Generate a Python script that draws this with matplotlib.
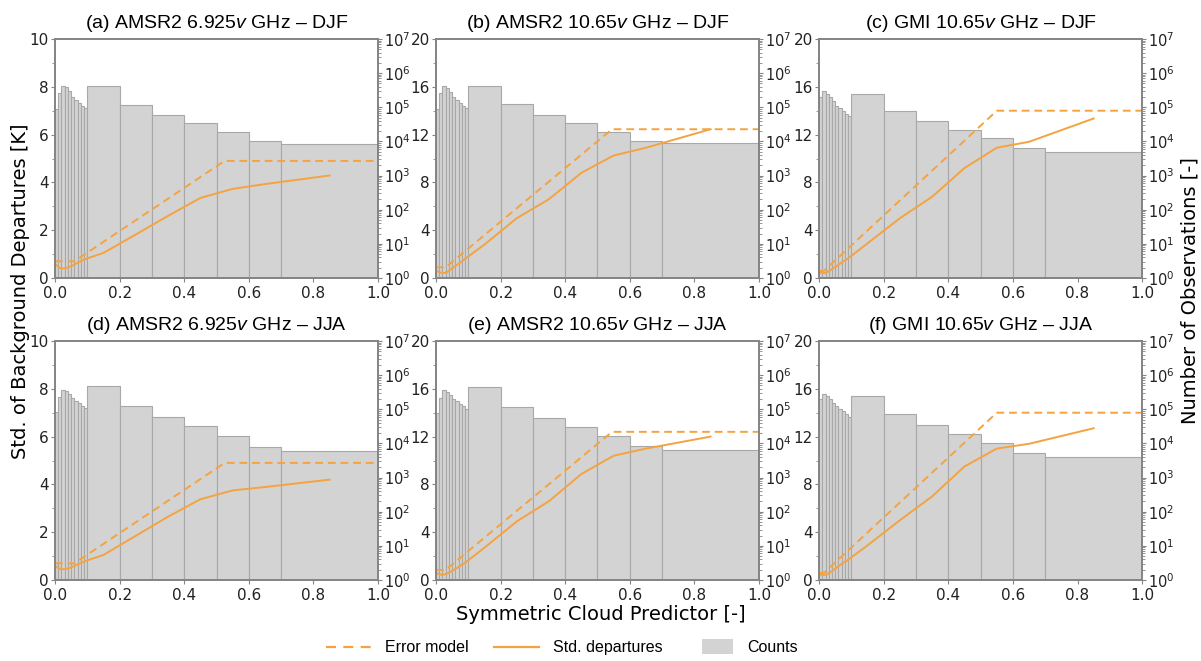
import numpy as np
import matplotlib
matplotlib.use('Agg')
import matplotlib.pyplot as plt
from matplotlib.patches import Patch, Rectangle
from matplotlib.lines import Line2D
from matplotlib.legend_handler import HandlerPatch
from matplotlib.ticker import MultipleLocator

plt.rcParams['font.family'] = 'DejaVu Sans'
plt.rcParams['mathtext.fontset'] = 'custom'
plt.rcParams['mathtext.it'] = 'Liberation Sans:italic'
plt.rcParams['mathtext.rm'] = 'DejaVu Sans'

# histogram bins of the symmetric cloud predictor
bin_edges = [0.0, 0.01, 0.02, 0.03, 0.04, 0.05, 0.06, 0.07, 0.08, 0.09,
             0.1, 0.2, 0.3, 0.4, 0.5, 0.6, 0.7, 1.0]
# x positions of std departures (bin centres)
x_std = [0.005, 0.015, 0.025, 0.035, 0.045, 0.055, 0.065, 0.075, 0.085, 0.095,
         0.15, 0.25, 0.35, 0.45, 0.55, 0.65, 0.85]

titles = ['(a) AMSR2 6.925$\\mathit{v}$ GHz \u2013 DJF',
          '(b) AMSR2 10.65$\\mathit{v}$ GHz \u2013 DJF',
          '(c) GMI 10.65$\\mathit{v}$ GHz \u2013 DJF',
          '(d) AMSR2 6.925$\\mathit{v}$ GHz \u2013 JJA',
          '(e) AMSR2 10.65$\\mathit{v}$ GHz \u2013 JJA',
          '(f) GMI 10.65$\\mathit{v}$ GHz \u2013 JJA']
ymax = [10, 20, 20, 10, 20, 20]

counts_a = [8.7e4, 2.6e5, 4.3e5, 3.9e5, 2.95e5, 2.0e5, 1.66e5, 1.32e5, 1.1e5, 9.3e4,
            4.1e5, 1.2e5, 5.9e4, 3.5e4, 1.9e4, 1.05e4, 8.3e3]
counts_b = [8.7e4, 2.6e5, 4.2e5, 3.7e5, 2.8e5, 2.0e5, 1.6e5, 1.3e5, 1.1e5, 9.3e4,
            4.2e5, 1.23e5, 6.0e4, 3.4e4, 1.95e4, 1.05e4, 8.9e3]
counts_c = [2.0e5, 3.1e5, 2.45e5, 1.95e5, 1.48e5, 1.1e5, 9.3e4, 7.8e4, 6.5e4, 5.4e4,
            2.45e5, 7.8e4, 4.0e4, 2.2e4, 1.26e4, 6.3e3, 5.0e3]
counts_d = [8.1e4, 2.3e5, 3.8e5, 3.55e5, 2.8e5, 2.15e5, 1.74e5, 1.48e5, 1.29e5, 1.1e5,
            4.8e5, 1.23e5, 5.9e4, 3.2e4, 1.6e4, 8.1e3, 6.2e3]
counts_e = [7.9e4, 2.15e5, 3.6e5, 3.3e5, 2.7e5, 2.0e5, 1.7e5, 1.4e5, 1.23e5, 1.05e5,
            4.5e5, 1.2e5, 5.6e4, 3.1e4, 1.66e4, 8.7e3, 6.3e3]
counts_f = [1.95e5, 2.8e5, 2.4e5, 2.0e5, 1.55e5, 1.23e5, 1.02e5, 8.7e4, 7.1e4, 6.0e4,
            2.5e5, 7.1e4, 3.55e4, 1.95e4, 1.02e4, 5.2e3, 3.9e3]

std_a = [0.53, 0.42, 0.40, 0.42, 0.47, 0.53, 0.60, 0.67, 0.74, 0.80,
         1.05, 1.82, 2.60, 3.35, 3.73, 3.93, 4.29]
std_b = [0.55, 0.45, 0.42, 0.50, 0.70, 0.90, 1.10, 1.30, 1.50, 1.70,
         2.80, 5.00, 6.60, 8.80, 10.25, 10.90, 12.45]
std_c = [0.45, 0.40, 0.50, 0.65, 0.85, 1.00, 1.20, 1.40, 1.55, 1.75,
         2.90, 5.00, 6.80, 9.20, 10.90, 11.40, 13.35]
std_d = [0.55, 0.47, 0.45, 0.47, 0.50, 0.56, 0.62, 0.68, 0.74, 0.80,
         1.05, 1.85, 2.65, 3.38, 3.75, 3.89, 4.20]
std_e = [0.55, 0.45, 0.45, 0.55, 0.70, 0.85, 1.00, 1.20, 1.35, 1.55,
         2.70, 4.90, 6.60, 8.87, 10.40, 11.00, 12.00]
std_f = [0.45, 0.42, 0.50, 0.65, 0.85, 1.05, 1.25, 1.45, 1.60, 1.80,
         2.90, 5.00, 7.00, 9.50, 11.00, 11.40, 12.70]

# error model: clear value up to C_clr, linear to C_cld, constant after
err_x_a = [0.0, 0.06, 0.525, 1.0];  err_y_a = [0.7, 0.7, 4.9, 4.9]
err_x_b = [0.0, 0.03, 0.545, 1.0];  err_y_b = [0.9, 0.9, 12.45, 12.45]
err_x_c = [0.0, 0.015, 0.55, 1.0];  err_y_c = [0.6, 0.6, 14.0, 14.0]
err_x_d = [0.0, 0.06, 0.525, 1.0];  err_y_d = [0.7, 0.7, 4.9, 4.9]
err_x_e = [0.0, 0.03, 0.545, 1.0];  err_y_e = [0.85, 0.85, 12.4, 12.4]
err_x_f = [0.0, 0.015, 0.55, 1.0];  err_y_f = [0.6, 0.6, 14.0, 14.0]

counts = [counts_a, counts_b, counts_c, counts_d, counts_e, counts_f]
stds = [std_a, std_b, std_c, std_d, std_e, std_f]
err_x = [err_x_a, err_x_b, err_x_c, err_x_d, err_x_e, err_x_f]
err_y = [err_y_a, err_y_b, err_y_c, err_y_d, err_y_e, err_y_f]

orange = '#f4a340'
bar_face = '#d3d3d3'
bar_edge = '#a8a8a8'
spine_col = '#858585'

fig = plt.figure(figsize=(12.01, 6.61), dpi=100)

lefts = [0.0458, 0.363, 0.682]
bottoms = [0.5794, 0.1225]
w, h = 0.269, 0.3616

edges = np.array(bin_edges)
for i in range(6):
    r, c = divmod(i, 3)
    ax = fig.add_axes([lefts[c], bottoms[r], w, h])
    axr = ax.twinx()

    axr.bar(edges[:-1], counts[i], width=np.diff(edges), align='edge',
            color=bar_face, edgecolor=bar_edge, linewidth=0.8)
    axr.set_yscale('log')
    axr.set_ylim(1, 1e7)

    ax.plot(err_x[i], err_y[i], color=orange, lw=1.4, ls=(0, (4, 2.5)))
    ax.plot(x_std, stds[i], color=orange, lw=1.4)
    ax.set_zorder(axr.get_zorder() + 1)
    ax.patch.set_visible(False)

    ax.set_xlim(0, 1)
    ax.set_ylim(0, ymax[i])
    ax.xaxis.set_major_locator(MultipleLocator(0.2))
    ax.yaxis.set_major_locator(MultipleLocator(ymax[i] / 5))
    ax.yaxis.set_minor_locator(MultipleLocator(ymax[i] / 10))
    ax.set_title(titles[i], fontsize=14, family='Liberation Sans', pad=8)

    for a in (ax, axr):
        for s in a.spines.values():
            s.set_color(spine_col)
            s.set_linewidth(1.3)
        a.tick_params(colors=spine_col, labelcolor='#222222', length=3, width=0.8)
        a.tick_params(which='minor', colors=spine_col, length=2, width=0.6)
    ax.tick_params(labelsize=11, pad=1.5)
    ax.tick_params(axis='x', pad=2.5)
    axr.tick_params(labelsize=10.5, pad=1)

fig.text(0.5, 0.071, 'Symmetric Cloud Predictor [-]', ha='center', va='center', fontsize=14)
fig.text(0.0167, 0.56, 'Std. of Background Departures [K]', ha='center', va='center',
         rotation=90, fontsize=14)
fig.text(0.9905, 0.56, 'Number of Observations [-]', ha='center', va='center',
         rotation=90, fontsize=14)


def small_box(legend, orig_handle, xdescent, ydescent, width, height, fontsize):
    # counts patch is narrower than the line handles
    return Rectangle((-xdescent + 0.3 * width, -ydescent - 0.15 * height),
                     0.7 * width, 1.3 * height)


handles = [Line2D([], [], color=orange, lw=1.6, ls=(0, (4.5, 3.3))),
           Line2D([], [], color=orange, lw=1.6),
           Patch(facecolor=bar_face, edgecolor='none')]
fig.legend(handles, ['Error model', 'Std. departures', 'Counts'], loc='center',
           bbox_to_anchor=(0.468, 0.02), ncol=3, frameon=False,
           prop={'family': 'Liberation Sans', 'size': 11.5},
           handlelength=2.8, handletextpad=0.9, columnspacing=1.6,
           handler_map={Patch: HandlerPatch(patch_func=small_box)})

fig.savefig('out.png', dpi=100)
